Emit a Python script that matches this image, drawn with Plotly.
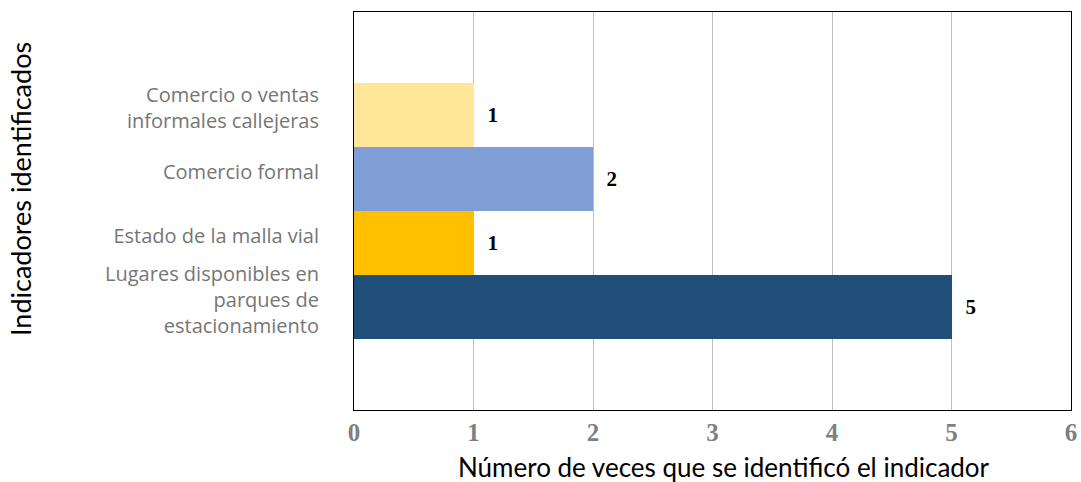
import plotly.graph_objects as go

# categories listed top to bottom as they appear
categories = [
    "Comercio o ventas<br>informales callejeras",
    "Comercio formal",
    "Estado de la malla vial",
    "Lugares disponibles en<br>parques de<br>estacionamiento",
]
counts = [1, 2, 1, 5]
bar_colors = ["#FFE699", "#7F9ED6", "#FFC000", "#1F4E79"]
x_ticks = [0, 1, 2, 3, 4, 5, 6]

L, R, T, B = 354, 10, 12, 72
W, H = 1081, 482
plot_w = W - L - R
plot_h = H - T - B

fig = go.Figure(go.Bar(
    x=counts,
    y=categories,
    orientation="h",
    marker=dict(color=bar_colors, line=dict(width=0)),
    text=["\u00a0\u00a0" + str(c) for c in counts],
    textposition="outside",
    textfont=dict(family="Liberation Serif", size=21, color="black", weight="bold"),
    cliponaxis=False,
    width=1.0,
))

fig.update_layout(
    width=W, height=H,
    margin=dict(l=L, r=R, t=T, b=B),
    paper_bgcolor="white", plot_bgcolor="white",
    showlegend=False,
    bargap=0,
    xaxis=dict(
        range=[0, 6], tickvals=x_ticks,
        automargin=False,
        showgrid=True, gridcolor="#BFBFBF", gridwidth=1,
        zeroline=False,
        showline=True, linecolor="black", linewidth=1, mirror=True,
        ticks="",
        tickfont=dict(family="Liberation Serif", size=25,
                      color="#7F7F7F", weight="bold"),
    ),
    yaxis=dict(
        type="category",
        categoryorder="array", categoryarray=categories,
        range=[4.6, -1.6],
        automargin=False,
        showgrid=False, zeroline=False,
        showline=True, linecolor="black", linewidth=1, mirror=True,
        ticks="outside", ticklen=30, tickcolor="rgba(0,0,0,0)",
        ticklabelshift=7,
        tickfont=dict(family="Open Sans", size=20, color="#767676"),
    ),
    annotations=[
        dict(text="Número de veces que se identificó el indicador",
             x=(724 - L) / plot_w, y=(H - B - 467) / plot_h,
             xref="paper", yref="paper",
             xanchor="center", yanchor="middle", showarrow=False,
             font=dict(family="Lato", size=26, color="black")),
        dict(text="Indicadores identificados",
             x=(20 - L) / plot_w, y=(H - B - 189) / plot_h,
             xref="paper", yref="paper",
             xanchor="center", yanchor="middle", showarrow=False,
             textangle=-90, font=dict(family="Lato", size=27, color="black")),
    ],
)

fig.write_html("out.html",
               config={"displayModeBar": False},
               post_script="document.body.style.margin='0';"
                           "document.body.style.overflow='hidden';")
